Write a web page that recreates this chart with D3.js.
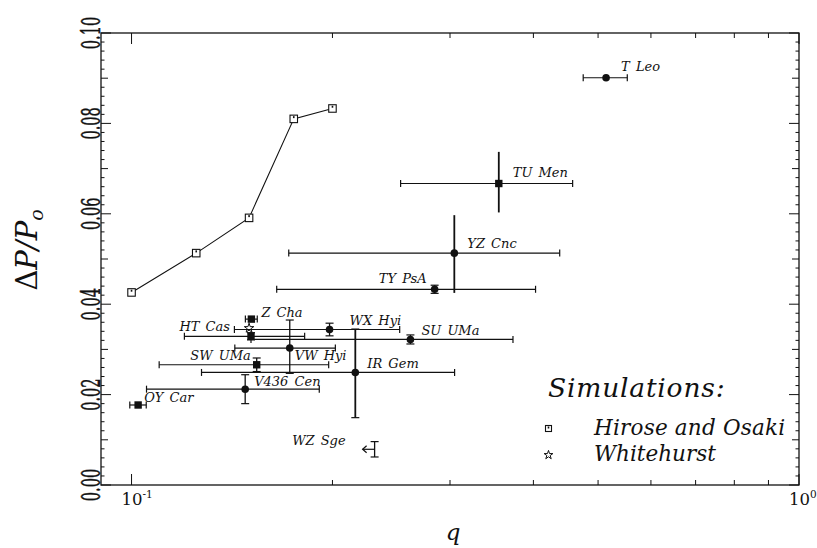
<!DOCTYPE html>
<html>
<head>
<meta charset="utf-8">
<title>Period excess vs mass ratio</title>
<script src="https://d3js.org/d3.v7.min.js"></script>
<style>
  body { margin: 0; background: #fff; }
  svg text { font-family: 'DejaVu Serif', serif; fill: #111; }
  .frame { fill: none; stroke: #111; stroke-width: 1.3; }
  .tick { stroke: #111; stroke-width: 1; }
  .err { stroke: #111; stroke-width: 1.2; fill: none; }
  .lbl { font-style: italic; font-size: 13px; word-spacing: 2px; }
</style>
</head>
<body>
<script>
// simulations: Hirose and Osaki (connected open squares)
const hoQ  = [0.1, 0.125, 0.15, 0.175, 0.2];
const hoDP = [0.0426, 0.0513, 0.0591, 0.0810, 0.0833];
// simulations: Whitehurst
const whQ  = [0.15];
const whDP = [0.0347];

// observed systems
const names  = ["T Leo", "TU Men", "YZ Cnc", "TY PsA", "Z Cha", "HT Cas", "WX Hyi",
                "SU UMa", "VW Hyi", "SW UMa", "IR Gem", "V436 Cen", "OY Car", "WZ Sge"];
const qVal   = [0.514, 0.355, 0.3045, 0.2845, 0.1512, 0.151, 0.198,
                0.2617, 0.1726, 0.154, 0.2164, 0.148, 0.1023, 0.2313];
const qLo    = [0.475, 0.253, 0.172, 0.165, 0.1481, 0.120, 0.1426,
                0.151, 0.1428, 0.110, 0.1273, 0.1053, 0.0994, 0.2313];
const qHi    = [0.553, 0.458, 0.438, 0.403, 0.1543, 0.1817, 0.2522,
                0.3728, 0.202, 0.1974, 0.3048, 0.1911, 0.1052, 0.2313];
const dpVal  = [0.0901, 0.0667, 0.0513, 0.0433, 0.0367, 0.0329, 0.0344,
                0.0322, 0.0303, 0.0266, 0.0249, 0.0212, 0.0177, 0.0079];
const dpLo   = [0.0901, 0.0603, 0.0425, 0.0424, 0.0367, 0.0321, 0.0330,
                0.0312, 0.0247, 0.0251, 0.0149, 0.0180, 0.0177, 0.0062];
const dpHi   = [0.0901, 0.0737, 0.0597, 0.0442, 0.0367, 0.0337, 0.0358,
                0.0332, 0.0365, 0.0281, 0.0345, 0.0244, 0.0177, 0.0096];
const kind   = ["circle", "square", "circle", "circle", "square", "square", "circle",
                "circle", "circle", "square", "circle", "circle", "square", "limit"];

// tick values
const yMajor = [0, 0.02, 0.04, 0.06, 0.08, 0.10];
const yLabels = ["0.00", "0.02", "0.04", "0.06", "0.08", "0.10"];
const xMajor = [0.1, 1];
const xExp = ["-1", "0"];
const xMinor = [0.2, 0.3, 0.4, 0.5, 0.6, 0.7, 0.8, 0.9];

// layout: label offsets in px from each point
const labelPos = {
  "T Leo": [15, -7, "start"], "TU Men": [14, -7, "start"], "YZ Cnc": [13, -5, "start"],
  "TY PsA": [-8, -6, "end"], "Z Cha": [10, -2, "start"], "HT Cas": [-21, -5, "end"],
  "WX Hyi": [20, -5, "start"], "SU UMa": [11, -4, "start"], "VW Hyi": [5, 12, "start"],
  "SW UMa": [-6, -5, "end"], "IR Gem": [12, -4, "start"], "V436 Cen": [9, -3, "start"],
  "OY Car": [6, -3, "start"], "WZ Sge": [-29, -4, "end"]
};

const W = 817, H = 548;
const L = 101, R = 799, T = 33, B = 485;

const svg = d3.select("body").append("svg")
  .attr("width", W).attr("height", H);

const x = d3.scaleLog().domain([0.09, 1]).range([L, R]);
const y = d3.scaleLinear().domain([0, 0.1]).range([B, T]);

// frame
svg.append("rect").attr("class", "frame")
  .attr("x", L).attr("y", T).attr("width", R - L).attr("height", B - T);

// y ticks (left & right), every 0.002
const yAll = d3.range(0, 51).map(i => i * 0.002);
yAll.forEach((v, i) => {
  const len = i % 10 === 0 ? 10 : (i % 5 === 0 ? 7 : 3.5);
  const yy = y(v);
  svg.append("line").attr("class", "tick").attr("x1", L).attr("x2", L + len).attr("y1", yy).attr("y2", yy);
  svg.append("line").attr("class", "tick").attr("x1", R).attr("x2", R - len).attr("y1", yy).attr("y2", yy);
});

// x ticks (bottom & top)
xMajor.concat(xMinor).forEach(v => {
  const len = xMajor.includes(v) ? 11 : 5;
  const xx = x(v);
  svg.append("line").attr("class", "tick").attr("x1", xx).attr("x2", xx).attr("y1", B).attr("y2", B - len);
  svg.append("line").attr("class", "tick").attr("x1", xx).attr("x2", xx).attr("y1", T).attr("y2", T + len);
});

// y tick labels (rotated, condensed)
yMajor.forEach((v, i) => {
  svg.append("text")
    .attr("transform", `translate(99.5,${y(v)}) rotate(-90) scale(0.56,1)`)
    .attr("text-anchor", "middle")
    .style("font-size", "26px")
    .style("stroke", "#111").style("stroke-width", 0.5)
    .text(yLabels[i]);
});

// x tick labels
xMajor.forEach((v, i) => {
  const t = svg.append("text")
    .attr("x", x(v) - 10).attr("y", 505)
    .style("font-size", "16.5px");
  t.append("tspan").text("10");
  t.append("tspan").attr("dy", -7).style("font-size", "10.5px").text(xExp[i]);
});

// axis titles
svg.append("text")
  .attr("x", (L + R) / 2 + 3).attr("y", 540)
  .attr("text-anchor", "middle")
  .style("font-style", "italic").style("font-size", "23px")
  .text("q");

const yt = svg.append("text")
  .attr("transform", "translate(37,250) rotate(-90)")
  .attr("text-anchor", "middle")
  .style("font-style", "italic").style("font-size", "29px");
yt.append("tspan").style("font-style", "normal").text("Δ");
yt.append("tspan").text("P/P");
yt.append("tspan").attr("dy", 6).style("font-size", "19px").text("o");

// Hirose & Osaki curve
svg.append("path")
  .datum(hoQ.map((d, i) => [d, hoDP[i]]))
  .attr("fill", "none").attr("stroke", "#111").attr("stroke-width", 1.1)
  .attr("d", d3.line().x(d => x(d[0])).y(d => y(d[1])));

function openSquare(g, cx, cy, s) {
  g.append("rect").attr("x", cx - s / 2).attr("y", cy - s / 2).attr("width", s).attr("height", s)
    .attr("fill", "#fff").attr("stroke", "#111").attr("stroke-width", 1.1);
  g.append("rect").attr("x", cx - 0.8).attr("y", cy - s / 2 + 1).attr("width", 1.6).attr("height", 2)
    .attr("fill", "#111");
}
hoQ.forEach((d, i) => openSquare(svg, x(d), y(hoDP[i]), 7.5));

const star = d3.symbol().type(d3.symbolStar).size(28);
whQ.forEach((d, i) => {
  svg.append("path").attr("d", star())
    .attr("transform", `translate(${x(d)},${y(whDP[i])})`)
    .attr("fill", "#fff").attr("stroke", "#111").attr("stroke-width", 1);
});

// observed points with error bars
names.forEach((n, i) => {
  const cx = x(qVal[i]), cy = y(dpVal[i]);
  const x0 = x(qLo[i]), x1 = x(qHi[i]);
  const y0 = y(dpLo[i]), y1 = y(dpHi[i]);
  const g = svg.append("g").attr("class", "err");
  if (x1 - x0 > 1) {
    g.append("line").attr("x1", x0).attr("x2", x1).attr("y1", cy).attr("y2", cy);
    [x0, x1].forEach(xx => g.append("line").attr("x1", xx).attr("x2", xx).attr("y1", cy - 3.5).attr("y2", cy + 3.5));
  }
  if (y0 - y1 > 1) {
    const big = (y0 - y1) > 60;
    g.append("line").attr("x1", cx).attr("x2", cx).attr("y1", y0).attr("y2", y1).style("stroke-width", big ? 1.8 : 1.3);
    if (!big || y0 - y1 > 80) {
      [y0, y1].forEach(yy => g.append("line").attr("x1", cx - 4).attr("x2", cx + 4).attr("y1", yy).attr("y2", yy));
    }
  }
  if (kind[i] === "circle") {
    svg.append("circle").attr("cx", cx).attr("cy", cy).attr("r", 3.8).attr("fill", "#111");
  } else if (kind[i] === "square") {
    svg.append("rect").attr("x", cx - 3.7).attr("y", cy - 3.7).attr("width", 7.4).attr("height", 7.4).attr("fill", "#111");
  } else if (kind[i] === "limit") {
    g.append("line").attr("x1", cx).attr("x2", cx - 12).attr("y1", cy).attr("y2", cy);
    g.append("path").attr("d", `M${cx - 8},${cy - 3.5} L${cx - 12},${cy} L${cx - 8},${cy + 3.5}`);
  }
  const p = labelPos[n];
  svg.append("text").attr("class", "lbl")
    .attr("x", cx + p[0]).attr("y", cy + p[1])
    .attr("text-anchor", p[2])
    .text(n);
});

// legend
svg.append("text").attr("x", 548).attr("y", 397)
  .style("font-style", "italic").style("font-size", "26.5px").style("letter-spacing", "0.8px")
  .text("Simulations:");
openSquare(svg, 548.5, 428.5, 6);
svg.append("text").attr("x", 594).attr("y", 435)
  .style("font-style", "italic").style("font-size", "21.5px").style("letter-spacing", "0.2px")
  .text("Hirose and Osaki");
svg.append("path").attr("d", d3.symbol().type(d3.symbolStar).size(24)())
  .attr("transform", "translate(548.5,455)")
  .attr("fill", "#fff").attr("stroke", "#111").attr("stroke-width", 1);
svg.append("text").attr("x", 594).attr("y", 461)
  .style("font-style", "italic").style("font-size", "21.5px")
  .text("Whitehurst");
</script>
</body>
</html>
